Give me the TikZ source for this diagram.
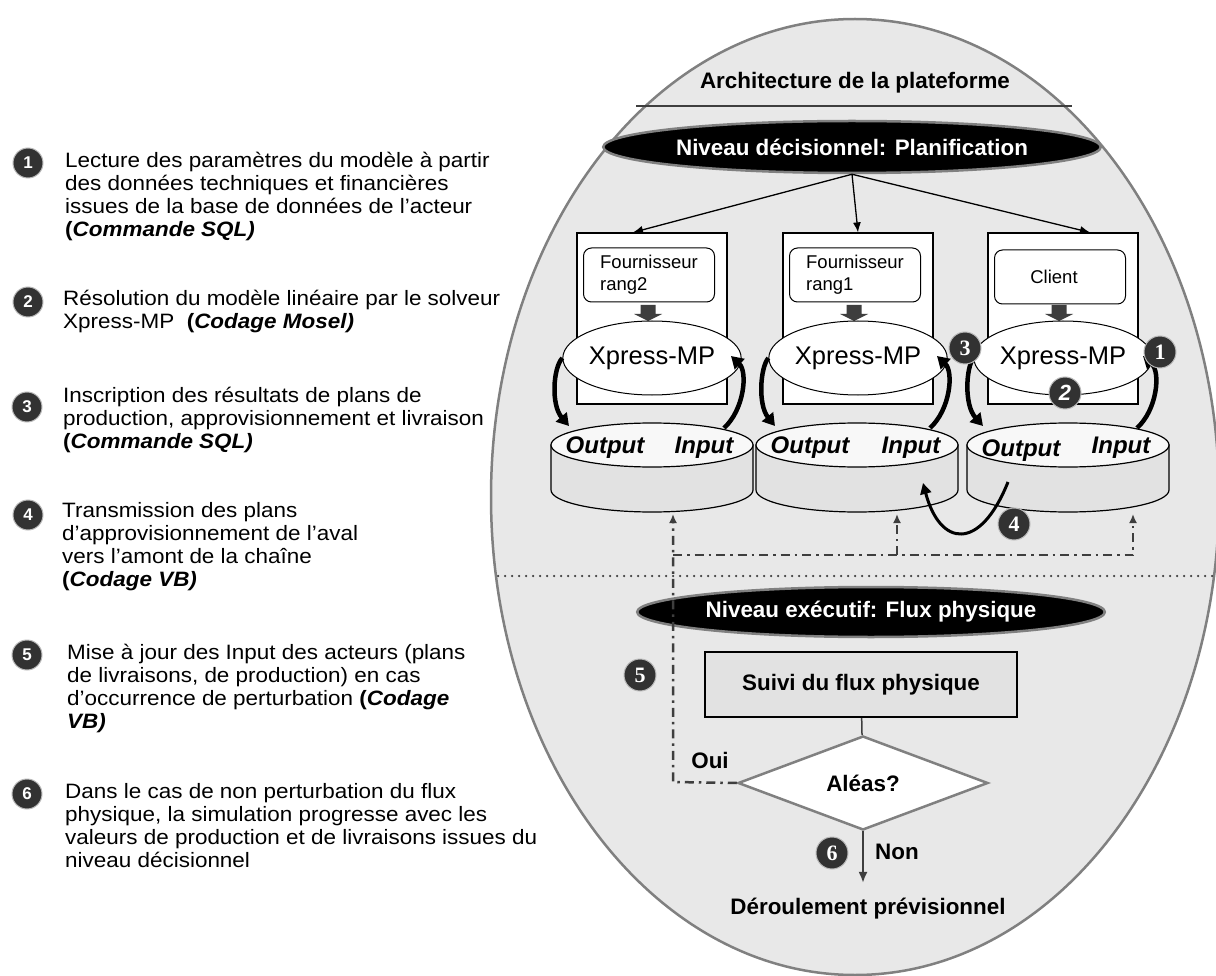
\documentclass[tikz,border=0pt]{standalone}
\usepackage{fontspec}
\setmainfont{Liberation Sans}
\newfontfamily\numserif{Liberation Serif}
\newfontfamily\descfont[FakeStretch=1.08]{Liberation Sans}
\usepackage{tikz}
\usetikzlibrary{arrows.meta,shapes.geometric}
\definecolor{fondgris}{RGB}{232,232,232}
\definecolor{bordgris}{RGB}{128,128,128}
\definecolor{numgris}{RGB}{50,50,50}
\definecolor{traitgris}{RGB}{62,62,62}
\definecolor{cylgris}{RGB}{226,226,226}
\definecolor{cyltop}{RGB}{248,248,248}

\begin{document}
\begin{tikzpicture}[x=1pt, y=-1pt, >={Latex[length=10pt,width=8pt]},   %pixel grid, y down
					font=\descfont\fontsize{20.8}{23}\selectfont,
					desc/.style={anchor=north west, align=left, inner sep=0pt},
					numl/.style={circle, fill=numgris, draw=gray!55, line width=1pt, minimum size=30pt, inner sep=0pt, text=white, font=\fontsize{17}{17}\selectfont\bfseries},
					numr/.style={numl, minimum size=32pt, font=\fontsize{22}{22}\selectfont\numserif\bfseries},
					niveau/.style={ellipse, fill=black, draw=bordgris, line width=2.5pt, text=white, inner sep=0pt, font=\fontsize{22.4}{26}\selectfont\bfseries},
					acteur/.style={draw, fill=white, line width=1.2pt, minimum width=150pt, minimum height=171pt, inner sep=0pt},
					role/.style={draw, fill=white, rounded corners=8pt, line width=1pt, minimum width=131pt, minimum height=54pt, inner sep=0pt, align=left, font=\fontsize{18.5}{22}\selectfont},
					solveur/.style={ellipse, draw, fill=white, line width=1pt, minimum width=148pt, minimum height=74pt, inner sep=0pt, font=\fontsize{25.5}{28}\selectfont},
					io/.style={inner sep=0pt, font=\fontsize{24}{26}\selectfont\bfseries\itshape},
					cylcorps/.style={draw, fill=cylgris, line width=1.2pt},
					cyltete/.style={draw, fill=cyltop, line width=1.2pt},
					lien/.style={-{Triangle[length=12pt,width=14pt]}, line width=4.5pt},
					miseajour/.style={traitgris, line width=2.5pt, dash pattern=on 9pt off 5pt on 2.5pt off 5pt},
					gras/.style={font=\fontsize{22.4}{26}\selectfont\bfseries}]
					\useasboundingbox (0,0) rectangle (1216,976);
					% texte explicatif
					\node[numl] (l1) at (28,163) {1};
					\node[desc] (t1) at (65,152) {Lecture des paramètres du modèle à partir\\des données techniques et financières\\issues de la base de données de l’acteur\\\textbf{(\textit{Commande SQL)}}};
					\node[numl] (l2) at (28,302) {2};
					\node[desc] (t2) at (63,290) {Résolution du modèle linéaire par le solveur\\Xpress-MP\ \ \textbf{(\textit{Codage Mosel)}}};
					\node[numl] (l3) at (27,407) {3};
					\node[desc] (t3) at (63,387) {Inscription des résultats de plans de\\production, approvisionnement et livraison\\\textbf{(\textit{Commande SQL)}}};
					\node[numl] (l4) at (28,515) {4};
					\node[desc] (t4) at (62,502) {Transmission des plans\\d’approvisionnement de l’aval\\vers l’amont de la chaîne\\\textbf{(\textit{Codage VB)}}};
					\node[numl] (l5) at (27,655) {5};
					\node[desc] (t5) at (67,644) {Mise à jour des Input des acteurs (plans\\de livraisons, de production) en cas\\d’occurrence de perturbation \textbf{(\textit{Codage}}\\\textbf{\textit{VB)}}};
					\node[numl] (l6) at (27,794) {6};
					\node[desc] (t6) at (65,783) {Dans le cas de non perturbation du flux\\physique, la simulation progresse avec les\\valeurs de production et de livraisons issues du\\niveau décisionnel};
					% plateforme
					\draw[fill=fondgris, draw=bordgris, line width=2.5pt] (855,497) ellipse [x radius=364, y radius=478];
					\node[gras] (titre) at (855,83) {Architecture de la plateforme};
					\draw[traitgris, line width=1.3pt] (636,106) -- (1072,106);
					\draw[traitgris, line width=2.5pt, dash pattern=on 0pt off 7pt, line cap=round] (498,576) -- (1214,576);
					\node[niveau, minimum width=494pt, minimum height=52pt] (plan) at (852,147) {Niveau décisionnel: Planification};
					% acteurs
					\node[acteur] (af2) at (652,318.5) {};
					\node[acteur] (af1) at (858,318.5) {};
					\node[acteur] (acl) at (1063,318.5) {};
					\draw[->, line width=1.3pt] (plan.south) -- ([xshift=-19pt]af2.north);
					\draw[->, line width=1.3pt] (plan.south) -- (af1.north);
					\draw[->, line width=1.3pt] (plan.south) -- ([xshift=27pt]acl.north);
					\node[role] (rf2) at (649,275) {Fournisseur\\rang2};
					\node[role] (rf1) at (855,275) {Fournisseur\\rang1};
					\node[role] (rcl) at (1060,277) {Client\hspace*{12pt}};
					\fill[traitgris] (640.5,305) rectangle (655.5,314) (634,314) -- (662,314) -- (648,321) -- cycle;
					\fill[traitgris] (846.5,305) rectangle (861.5,314) (840,314) -- (868,314) -- (854,321) -- cycle;
					\fill[traitgris] (1051.5,305) rectangle (1066.5,314) (1045,314) -- (1073,314) -- (1059,321) -- cycle;
					\node[solveur] (xf2) at (652,358) {Xpress-MP};
					\node[solveur] (xf1) at (858,358) {Xpress-MP};
					\node[solveur] (xcl) at (1063,358) {Xpress-MP};
					% bases de donnees
					\draw[cylcorps] (551,445) -- (551,490) arc[start angle=180, end angle=0, x radius=101, y radius=22] -- (753,445) -- cycle;
					\draw[cyltete] (652,445) ellipse [x radius=101, y radius=22];
					\draw[cylcorps] (756,445) -- (756,490) arc[start angle=180, end angle=0, x radius=101, y radius=22] -- (958,445) -- cycle;
					\draw[cyltete] (857,445) ellipse [x radius=101, y radius=22];
					\draw[cylcorps] (967,445) -- (967,490) arc[start angle=180, end angle=0, x radius=101, y radius=22] -- (1169,445) -- cycle;
					\draw[cyltete] (1068,445) ellipse [x radius=101, y radius=22];
					\node[io] (of2) at (605,448) {Output};
					\node[io] (if2) at (704,448) {Input};
					\node[io] (of1) at (810,448) {Output};
					\node[io] (if1) at (911,448) {Input};
					\node[io] (ocl) at (1021,451) {Output};
					\node[io] (icl) at (1121,448) {Input};
					\coordinate (bf2o) at (569,426); \coordinate (bf2i) at (724,428);
					\coordinate (bf1o) at (775,426); \coordinate (bf1i) at (930,428);
					\coordinate (bclo) at (983,426); \coordinate (bcli) at (1137,428);
					\draw[lien] (xf2.west) .. controls (553,368) and (551,405) .. (bf2o);
					\draw[lien] (bf2i) .. controls (744,410) and (748,372) .. (731,356);
					\draw[lien] (xf1.west) .. controls (760,368) and (758,405) .. (bf1o);
					\draw[lien] (bf1i) .. controls (950,410) and (954,372) .. (937,356);
					\draw[lien] (xcl.west) .. controls (966,368) and (964,405) .. (bclo);
					\draw[lien] (bcli) .. controls (1157,410) and (1161,372) .. (1143,356);
					\coordinate (d4) at (1008,482); \coordinate (a4) at (923,483);
					\draw[-{Triangle[length=11pt,width=11pt]}, line width=3pt] (d4) .. controls (980,552) and (940,547) .. (a4);
					% mise a jour des Input
					\coordinate (e2) at (673,514); \coordinate (e1) at (897,514); \coordinate (ec) at (1133,514);
					\coordinate (k5) at (673,782); \coordinate (kg) at (673,555); \coordinate (kd) at (1133,555); \coordinate (km) at (897,555);
					% niveau executif
					\node[niveau, minimum width=396pt, minimum height=50pt] (exec) at (871,612) {Niveau exécutif: Flux physique};
					\node[draw, fill=cylgris, line width=2pt, minimum width=312pt, minimum height=65pt, gras] (suivi) at (861,684.5) {Suivi du flux physique};
					\node[diamond, draw=bordgris, fill=white, line width=2.5pt, minimum width=250pt, minimum height=94pt, inner sep=0pt, gras] (aleas) at (863,783) {Aléas?};
					\draw[traitgris, line width=1.5pt] (suivi) -- (aleas);
					\node[gras] (fin) at (868,909) {Déroulement prévisionnel};
					\draw[-{Latex[length=11pt,width=9pt]}, traitgris, line width=2pt, shorten >=12pt] (aleas.south) -- (aleas.south |- fin.north);
					\node[gras] (non) at (897,852) {Non};
					\node[gras] (oui) at (710,760) {Oui};
					\draw[miseajour, -{Latex[length=9pt,width=8pt]}] (aleas.west) -- (k5) -- (e2);
					\draw[miseajour, -{Latex[length=9pt,width=8pt]}] (kg) -- (kd) -- (ec);
					\draw[miseajour, -{Latex[length=9pt,width=8pt]}] (km) -- (e1);
					% numeros
					\node[numr] (r3) at (965,348) {3};
					\node[numr] (r1) at (1160,352) {1};
					\node[numr, font=\fontsize{22}{22}\selectfont\bfseries\itshape] (r2) at (1065,393) {2};
					\node[numr] (r4) at (1014,524) {4};
					\node[numr] (r5) at (640,675) {5};
					\node[numr] (r6) at (832,853) {6};
				\end{tikzpicture}
\end{document}
